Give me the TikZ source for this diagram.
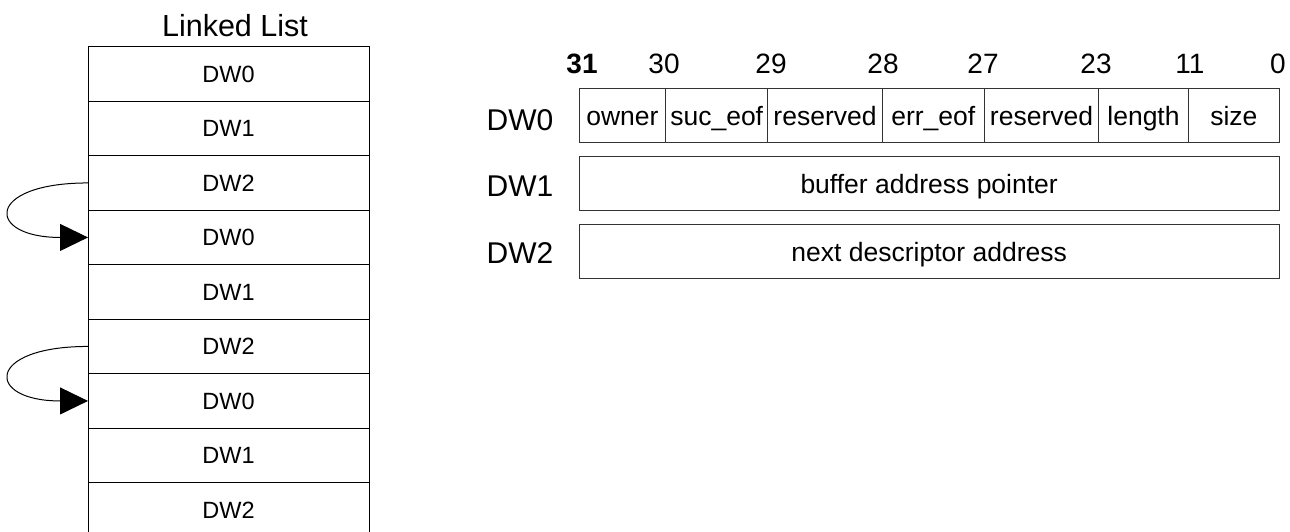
\documentclass[tikz,border=0pt]{standalone}
\usepackage{fontspec}
\setmainfont{Liberation Sans}
\usetikzlibrary{arrows.meta}
\begin{document}
\begin{tikzpicture}[x=1pt,y=-1pt,
  cell/.style={draw=black, line width=1pt, minimum width=281pt, minimum height=54.5pt,
    inner sep=0pt, outer sep=0pt, font=\fontsize{23.5}{27}\selectfont},
  field/.style={draw=black!80, line width=1pt, minimum height=54pt, inner sep=0pt, outer sep=0pt,
    anchor=north west, text height=20pt, text depth=0pt, font=\fontsize{26.5}{30}\selectfont},
  rowlabel/.style={inner sep=0pt, font=\fontsize{30}{34}\selectfont},
  bitnum/.style={inner sep=0pt, anchor=base, font=\fontsize{28}{32}\selectfont},
  conn/.style={draw=black, line width=1pt, -{Triangle[length=28pt,width=27pt]}}
]
\useasboundingbox (0,0) rectangle (1290,532);
\fill[white] (0,0) rectangle (1290,532);

% title
\node[inner sep=0pt, anchor=base, font=\fontsize{30.5}{34}\selectfont] (title) at (235,36.5) {Linked List};

% linked list cells
\foreach \i/\t in {1/DW0,2/DW1,3/DW2,4/DW0,5/DW1,6/DW2,7/DW0,8/DW1,9/DW2}{
  \node[cell] (r\i) at (228.5,{46.7+54.5*(\i-1)+27.25}) {\t};
}

% connectors
\draw[conn] (r3.west) .. controls +(-103,0) and +(-103,0) .. (r4.west);
\draw[conn] (r6.west) .. controls +(-103,0) and +(-103,0) .. (r7.west);

% bit numbers
\node[bitnum, font=\fontsize{28}{32}\selectfont\bfseries] (b31) at (582,74) {31};
\node[bitnum] (b30) at (664,74) {30};
\node[bitnum] (b29) at (771,74) {29};
\node[bitnum] (b28) at (883,74) {28};
\node[bitnum] (b27) at (983,74) {27};
\node[bitnum] (b23) at (1096,74) {23};
\node[bitnum] (b11) at (1190,74) {11};
\node[bitnum] (b0) at (1278,74) {0};

% row labels
\node[rowlabel] (l0) at (520,119.7) {DW0};
\node[rowlabel] (l1) at (520,186) {DW1};
\node[rowlabel] (l2) at (520,252.8) {DW2};

% DW0 fields
\node[field, minimum width=86.7pt] (f1) at (579,88.3) {owner};
\node[field, minimum width=102pt] (f2) at (665.7,88.3) {suc\_eof};
\node[field, minimum width=114.6pt] (f3) at (767.7,88.3) {reserved};
\node[field, minimum width=102pt] (f4) at (882.3,88.3) {err\_eof};
\node[field, minimum width=114.4pt] (f5) at (984.3,88.3) {reserved};
\node[field, minimum width=89.6pt] (f6) at (1098.7,88.3) {length};
\node[field, minimum width=91pt] (f7) at (1188.3,88.3) {size};

% DW1, DW2
\node[field, minimum width=700.3pt] (w1) at (579,156.7) {buffer address pointer};
\node[field, minimum width=700.3pt, minimum height=54.3pt] (w2) at (579,224) {next descriptor address};
\end{tikzpicture}
\end{document}
